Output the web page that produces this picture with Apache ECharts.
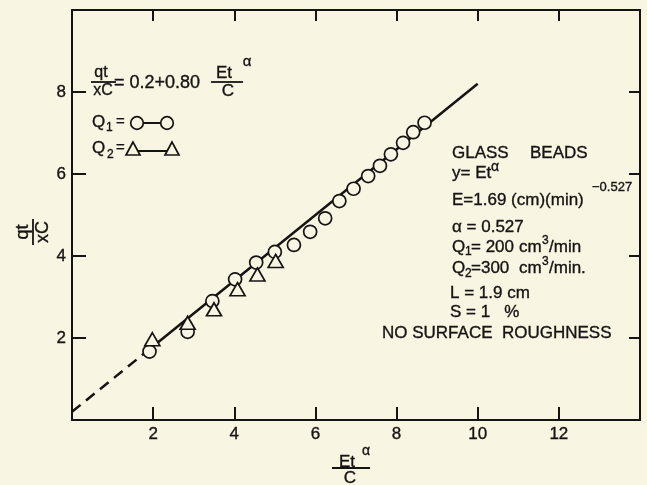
<!DOCTYPE html>
<html><head><meta charset="utf-8">
<script src="https://cdn.jsdelivr.net/npm/echarts@6/dist/echarts.min.js"></script>
<style>html,body{margin:0;padding:0;background:#f9f5e3}#c{width:647px;height:485px}</style>
</head><body><div id="c"></div>
<script>
// ---- data ----
const xTickLabels = [2, 4, 6, 8, 10, 12];
const yTickLabels = [2, 4, 6, 8];
const q1X = [1.91, 2.85, 3.46, 4.02, 4.54, 5.00, 5.47, 5.87, 6.24, 6.59, 6.94, 7.30, 7.59, 7.86, 8.16, 8.41, 8.69];
const q1Y = [1.67, 2.15, 2.90, 3.43, 3.84, 4.10, 4.27, 4.59, 4.92, 5.34, 5.64, 5.95, 6.20, 6.48, 6.76, 7.02, 7.25];
const q2X = [1.98, 2.85, 3.50, 4.08, 4.57, 5.02];
const q2Y = [1.97, 2.37, 2.70, 3.19, 3.55, 3.88];
const fitDashX = [0, 1.95];
const fitDashY = [0.2, 1.76];
const fitSolidX = [2.1, 10.0];
const fitSolidY = [1.88, 8.2];

// ---- styling ----
const ink = '#161412';
const bg = '#f9f5e3';
const FF = '"Liberation Sans", Arial, sans-serif';
const pairs = (xs, ys) => xs.map((x, i) => [x, ys[i]]);

function T(x, y, text, size, align) {
  return { type: 'text', x: x, y: y, z: 50,
    style: { text: text, font: size + 'px ' + FF, fill: ink, stroke: ink, lineWidth: 0.35,
      textAlign: align || 'left', textVerticalAlign: 'middle', verticalAlign: 'middle' } };
}
function L(x1, y1, x2, y2, w) {
  return { type: 'line', z: 50, shape: { x1: x1, y1: y1, x2: x2, y2: y2 },
    style: { stroke: ink, lineWidth: w || 1.8 } };
}

const graphics = [
  // formula top-left
  T(101, 73, 'qt', 16, 'center'), L(91, 82, 116, 82, 1.8), T(103, 91, 'xC', 16, 'center'),
  T(114, 83, '= 0.2+0.80', 18),
  T(224, 73, 'Et', 17, 'center'), T(247, 62, 'α', 15, 'center'), L(211, 82, 243, 82, 1.8), T(228, 91, 'C', 17, 'center'),
  // legend Q1
  T(92, 122, 'Q', 17), T(106, 128, '1', 12), T(116, 122, '=', 15),
  L(137, 123, 167, 123, 2),
  { type: 'circle', z: 51, shape: { cx: 137, cy: 123, r: 6.3 }, style: { fill: bg, stroke: ink, lineWidth: 1.7 } },
  { type: 'circle', z: 51, shape: { cx: 167, cy: 123, r: 6.3 }, style: { fill: bg, stroke: ink, lineWidth: 1.7 } },
  // legend Q2
  T(92, 148, 'Q', 17), T(107, 155, '2', 12), T(116, 148, '=', 15),
  L(134, 151, 172, 151, 2),
  { type: 'polygon', z: 51, shape: { points: [[133, 142], [126, 155], [140, 155]] }, style: { fill: bg, stroke: ink, lineWidth: 1.7 } },
  { type: 'polygon', z: 51, shape: { points: [[172, 142], [165, 155], [179, 155]] }, style: { fill: bg, stroke: ink, lineWidth: 1.7 } },
  // annotation block right
  T(452, 153, 'GLASS', 17), T(530, 153, 'BEADS', 17),
  T(452, 173, 'y= Et', 17), T(491, 167, 'α', 14),
  T(452, 200, 'E=1.69 (cm)(min)', 17), T(592, 187, '−0.527', 13),
  T(452, 227, 'α = 0.527', 17),
  T(452, 247, 'Q', 17), T(465, 252, '1', 12), T(471, 247, '= 200', 17), T(519, 247, 'cm', 17), T(542, 241, '3', 12), T(549, 247, '/min', 17),
  T(452, 268, 'Q', 17), T(465, 274, '2', 12), T(471, 268, '=300', 17), T(519, 268, 'cm', 17), T(542, 262, '3', 12), T(549, 268, '/min.', 17),
  T(450, 293, 'L = 1.9 cm', 17),
  T(450, 312, 'S = 1   %', 17),
  T(382, 333, 'NO SURFACE  ROUGHNESS', 17),
  // x-axis name (fraction)
  T(347, 462, 'Et', 17, 'center'), T(366, 451, 'α', 14, 'center'), L(332, 468, 370, 468, 1.8), T(350, 478, 'C', 17, 'center'),
  // y-axis name (rotated fraction)
  { type: 'group', x: 33, y: 232, rotation: Math.PI / 2, children: [
    T(0, -10, 'qt', 18, 'center'), L(-13, 0, 13, 0, 1.8), T(0, 10, 'xC', 18, 'center')
  ] }
];

const axLine = { show: true, onZero: false, lineStyle: { color: ink, width: 2 } };
const lbl = { color: ink, fontSize: 17, fontFamily: FF, textBorderColor: ink, textBorderWidth: 0.35 };
const chart = echarts.init(document.getElementById('c'), null, { renderer: 'canvas' });
chart.setOption({
  animation: false,
  backgroundColor: bg,
  grid: { left: 72, right: 7, top: 10, bottom: 65, containLabel: false },
  xAxis: [
    { type: 'value', min: 0, max: 14, interval: 2, position: 'bottom',
      axisLine: axLine,
      axisTick: { show: true, inside: true, length: 13, lineStyle: { color: ink, width: 2 } },
      axisLabel: Object.assign({ margin: 6, formatter: v => xTickLabels.includes(v) ? String(v) : '' }, lbl),
      splitLine: { show: false } },
    { type: 'value', min: 0, max: 14, interval: 2, position: 'top',
      axisLine: axLine,
      axisTick: { show: true, inside: true, length: 11, lineStyle: { color: ink, width: 2 } },
      axisLabel: { show: false }, splitLine: { show: false } }
  ],
  yAxis: [
    { type: 'value', min: 0, max: 10, interval: 2, position: 'left',
      axisLine: axLine,
      axisTick: { show: true, inside: true, length: 14, lineStyle: { color: ink, width: 2 } },
      axisLabel: Object.assign({ margin: 6, formatter: v => yTickLabels.includes(v) ? String(v) : '' }, lbl),
      splitLine: { show: false } },
    { type: 'value', min: 0, max: 10, interval: 2, position: 'right',
      axisLine: axLine,
      axisTick: { show: true, inside: true, length: 11, lineStyle: { color: ink, width: 2 } },
      axisLabel: { show: false }, splitLine: { show: false } }
  ],
  series: [
    { type: 'line', data: pairs(fitDashX, fitDashY), symbol: 'none', z: 2,
      lineStyle: { color: ink, width: 2.5, type: [11, 7] } },
    { type: 'line', data: pairs(fitSolidX, fitSolidY), symbol: 'none', z: 2,
      lineStyle: { color: ink, width: 2.5 } },
    { type: 'scatter', name: 'Q1', data: pairs(q1X, q1Y), symbol: 'circle', symbolSize: 13, z: 3,
      itemStyle: { color: bg, borderColor: ink, borderWidth: 1.7, opacity: 1 } },
    { type: 'scatter', name: 'Q2', data: pairs(q2X, q2Y), symbol: 'triangle', symbolSize: [15, 13], z: 4,
      itemStyle: { color: bg, borderColor: ink, borderWidth: 1.7, opacity: 1 } }
  ],
  graphic: graphics
});
</script>
</body></html>
